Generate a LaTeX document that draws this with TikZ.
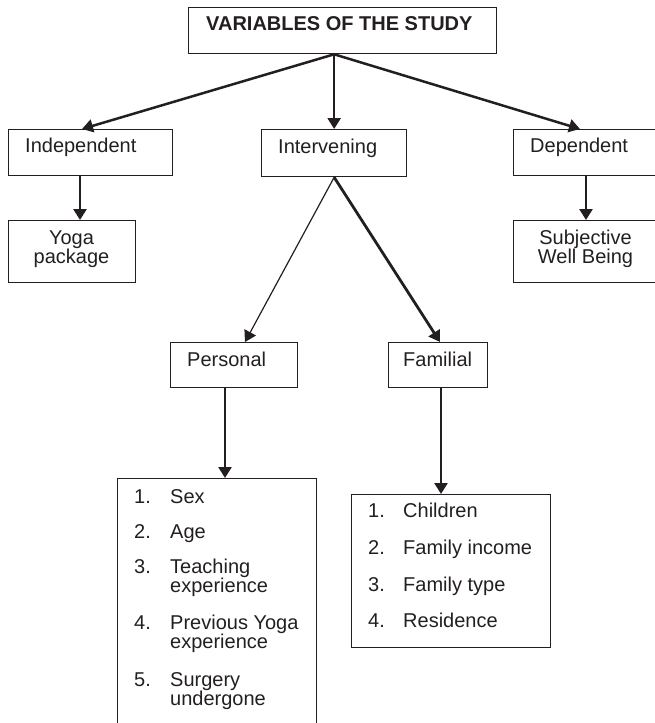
\documentclass[tikz,border=0pt]{standalone}
\usepackage{fontspec}
\setmainfont{Liberation Sans}
\usetikzlibrary{arrows.meta,calc}
\definecolor{ink}{HTML}{231F20}
\begin{document}
\begin{tikzpicture}[x=1pt,y=-1pt,
  box/.style={draw=ink, line width=1.3pt, rectangle, inner sep=0pt, anchor=north west},
  lbl/.style={inner sep=0pt, anchor=base west, font=\fontsize{20}{19}\selectfont, text=ink},
  clbl/.style={inner sep=0pt, anchor=base, font=\fontsize{20}{19}\selectfont, text=ink},
  arr/.style={draw=ink, line width=2.5pt, -{Triangle[length=11pt,width=13pt]}},
]
\useasboundingbox (0,0) rectangle (655,723);
% boxes
\node[box, minimum width=308pt, minimum height=46pt] (top) at (188,7) {};
\node[box, minimum width=164pt, minimum height=46pt] (indep) at (8,129) {};
\node[box, minimum width=145pt, minimum height=47pt] (inter) at (261,129) {};
\node[box, minimum width=145pt, minimum height=46pt] (dep) at (513,129) {};
\node[box, minimum width=127pt, minimum height=62pt] (yoga) at (8,220) {};
\node[box, minimum width=145pt, minimum height=62pt] (swb) at (513,220) {};
\node[box, minimum width=127pt, minimum height=45pt] (pers) at (170,342) {};
\node[box, minimum width=99pt, minimum height=45pt] (fam) at (388,342) {};
\node[box, minimum width=199pt, minimum height=252pt] (plist) at (117,478) {};
\node[box, minimum width=199pt, minimum height=153pt] (flist) at (351,494) {};
% labels
\node[lbl, font=\fontsize{20}{19}\selectfont\bfseries] (ttop) at (206,30) {VARIABLES OF THE STUDY};
\node[lbl] (tindep) at (25,152) {Independent};
\node[lbl] (tinter) at (278,153) {Intervening};
\node[lbl] (tdep) at (530,152) {Dependent};
\node[clbl] (tyoga1) at (71.5,244) {Yoga};
\node[clbl] (tyoga2) at (71.5,263) {package};
\node[clbl] (tswb1) at (585.5,244) {Subjective};
\node[clbl] (tswb2) at (585.5,263) {Well Being};
\node[lbl] (tpers) at (187,366) {Personal};
\node[lbl] (tfam) at (403,366) {Familial};
% personal list
\node[lbl] (pn1) at (134,503) {1.};
\node[lbl] (pt1) at (170,503) {Sex};
\node[lbl] (pn2) at (134,538) {2.};
\node[lbl] (pt2) at (170,538) {Age};
\node[lbl] (pn3) at (134,573) {3.};
\node[lbl] (pt3a) at (170,573) {Teaching};
\node[lbl] (pt3b) at (170,592) {experience};
\node[lbl] (pn4) at (134,629) {4.};
\node[lbl] (pt4a) at (170,629) {Previous Yoga};
\node[lbl] (pt4b) at (170,648) {experience};
\node[lbl] (pn5) at (134,686) {5.};
\node[lbl] (pt5a) at (170,686) {Surgery};
\node[lbl] (pt5b) at (170,705) {undergone};
% familial list
\node[lbl] (fn1) at (368,517) {1.};
\node[lbl] (ft1) at (403,517) {Children};
\node[lbl] (fn2) at (368,554) {2.};
\node[lbl] (ft2) at (403,554) {Family income};
\node[lbl] (fn3) at (368,591) {3.};
\node[lbl] (ft3) at (403,591) {Family type};
\node[lbl] (fn4) at (368,627) {4.};
\node[lbl] (ft4) at (403,627) {Residence};
% connector helper coordinates
\coordinate (fork) at (top.south -| inter.north);
\coordinate (xa) at (82,0);
\coordinate (xb) at (80,0);
\coordinate (xc) at (580,0);
\coordinate (xd) at (586,0);
\coordinate (xe) at (245,0);
\coordinate (xf) at (440,0);
\coordinate (xg) at (225,0);
\coordinate (xh) at (441,0);
% connectors
\draw[arr] (fork) -- (indep.north -| xa);
\draw[arr] (fork) -- (inter.north);
\draw[arr] (fork) -- (dep.north -| xc);
\draw[arr] (indep.south -| xb) -- (yoga.north -| xb);
\draw[arr] (dep.south -| xd) -- (swb.north -| xd);
\draw[arr, line width=1.2pt] (inter.south) -- (pers.north -| xe);
\draw[arr, line width=2.8pt] (inter.south) -- (fam.north -| xf);
\draw[arr] (pers.south -| xg) -- (plist.north -| xg);
\draw[arr] (fam.south -| xh) -- (flist.north -| xh);
\end{tikzpicture}
\end{document}
